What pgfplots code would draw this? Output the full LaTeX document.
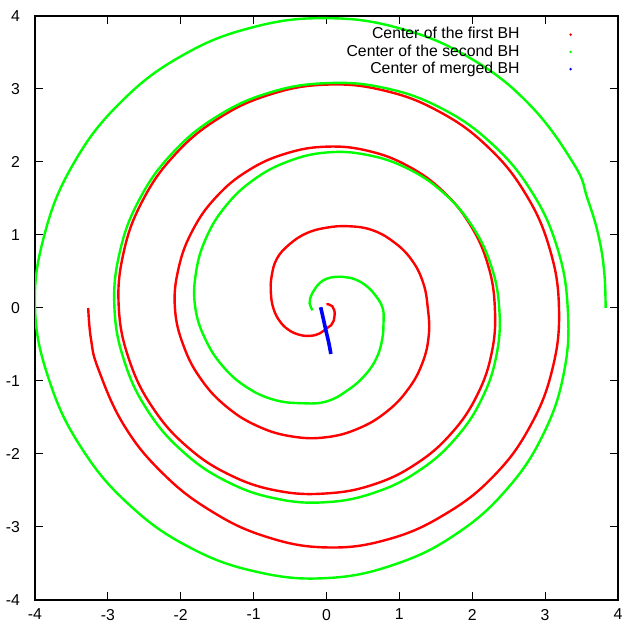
\documentclass[border=0pt]{standalone}
\usepackage{fontspec}
\setmainfont{Liberation Sans}
\usepackage{pgfplots}
\pgfplotsset{compat=1.18}
\definecolor{gpgreen}{RGB}{0,255,0}
\begin{document}
\begin{tikzpicture}
\begin{axis}[
  scale only axis, width=291.5pt, height=292pt,
  xmin=-4, xmax=4, ymin=-4, ymax=4,
  xtick={-4,-3,-2,-1,0,1,2,3,4}, ytick={-4,-3,-2,-1,0,1,2,3,4},
  tick align=inside, major tick length=3.8pt,
  tick style={black, line width=0.5pt},
  axis line style={line width=0.8pt},
  /pgf/number format/assume math mode=true,
  tick label style={font=\fontsize{7.9}{9}\selectfont},
  yticklabel style={xshift=-4pt},
  xticklabel style={yshift=-1pt},
  legend style={draw=none, fill=none, inner sep=0pt, row sep=-2.6pt, at={(0.9314,0.988)}, anchor=north east, font=\fontsize{7.9}{9}\selectfont},
  legend cell align=right,
  legend plot pos=right,
  every axis plot/.append style={legend image code/.code={\path[draw=none,fill=none] (0pt,0pt) -- (27pt,0pt); \fill[#1,draw=none] (23.5pt,0pt) circle (0.7pt);}},
]
\addplot[red, line width=1.2pt, smooth, tension=0.7] coordinates {
(-3.27,0) (-3.232,-0.425) (-3.130,-0.839) (-2.780,-1.605) (-2.256,-2.256) (-1.60,-2.771) (-0.839,-3.130)
(0,-3.28) (0.849,-3.168) (1.63,-2.823) (2.298,-2.298) (2.797,-1.615) (3.101,-0.831)
(3.19,0) (3.060,0.820) (2.725,1.574) (2.210,2.210) (1.552,2.687) (0.798,2.977)
(0,3.06) (-0.783,2.922) (-1.495,2.589) (-2.090,2.090) (-2.529,1.46) (-2.787,0.747)
(-2.85,0) (-2.703,-0.724) (-2.379,-1.374) (-1.906,-1.906) (-1.322,-2.289) (-0.671,-2.504)
(0,-2.54) (0.648,-2.417) (1.232,-2.133) (1.715,-1.715) (2.067,-1.194) (2.268,-0.608)
(2.31,0) (2.215,0.593) (1.972,1.139) (1.598,1.598) (1.122,1.942) (0.576,2.151)
(0,2.21) (-0.566,2.113) (-1.084,1.877) (-1.517,1.517) (-1.838,1.062) (-2.030,0.544)
(-2.08,0) (-1.959,-0.525) (-1.712,-0.989) (-1.361,-1.361) (-0.937,-1.622) (-0.472,-1.760)
(0,-1.77) (0.442,-1.649) (0.822,-1.423) (1.117,-1.117) (1.314,-0.759) (1.403,-0.376)
(1.39,0) (1.323,0.355) (1.160,0.67) (0.912,0.912) (0.618,1.07) (0.30,1.12)
(0,1.10) (-0.274,1.024) (-0.505,0.875) (-0.679,0.679) (-0.753,0.435) (-0.763,0.204)
(-0.73,0) (-0.647,-0.173) (-0.52,-0.30) (-0.368,-0.368) (-0.22,-0.381) (-0.093,-0.348)
(0,-0.28) (0.063,-0.237) (0.10,-0.173) (0.11,-0.11) (0.113,-0.065) (0.106,-0.028)
(0.09,0) (0.082,0.022) (0.06,0.035) (0.03,0.05) (0.0,0.05)
};
\addlegendentry{Center of the first BH}
\addplot[gpgreen, line width=1.2pt, smooth, tension=0.7] coordinates {
(3.83,0) (3.81,0.5) (3.73,1.0) (3.58,1.5) (3.399,1.963) (2.786,2.786) (1.975,3.421) (1.025,3.825)
(0,3.97) (-1.029,3.841) (-1.993,3.451) (-2.821,2.821) (-3.460,1.998) (-3.862,1.035)
(-4.0,0) (-3.796,-1.017) (-3.351,-1.935) (-2.701,-2.701) (-1.89,-3.273) (-0.968,-3.612)
(0,-3.70) (0.941,-3.511) (1.785,-3.092) (2.478,-2.478) (2.979,-1.72) (3.260,-0.873)
(3.31,0) (3.160,0.847) (2.800,1.617) (2.259,2.259) (1.579,2.734) (0.807,3.012)
(0,3.08) (-0.790,2.948) (-1.512,2.618) (-2.118,2.118) (-2.569,1.484) (-2.838,0.760)
(-2.91,0) (-2.770,-0.742) (-2.448,-1.414) (-1.969,-1.969) (-1.372,-2.375) (-0.699,-2.610)
(0,-2.66) (0.676,-2.523) (1.282,-2.220) (1.778,-1.778) (2.136,-1.234) (2.336,-0.626)
(2.37,0) (2.251,0.603) (1.983,1.145) (1.591,1.591) (1.105,1.914) (0.562,2.096)
(0,2.13) (-0.537,2.004) (-1.01,1.749) (-1.389,1.389) (-1.654,0.955) (-1.792,0.480)
(-1.80,0) (-1.655,-0.443) (-1.409,-0.814) (-1.089,-1.089) (-0.725,-1.256) (-0.349,-1.304)
(0,-1.28) (0.300,-1.120) (0.53,-0.918) (0.686,-0.686) (0.762,-0.44) (0.782,-0.210)
(0.77,0) (0.666,0.179) (0.537,0.31) (0.392,0.392) (0.245,0.424) (0.114,0.425)
(0,0.40) (-0.092,0.343) (-0.155,0.268) (-0.198,0.198) (-0.225,0.13) (-0.232,0.062)
(-0.21,0) (-0.19,-0.03)
};
\addlegendentry{Center of the second BH}
\addplot[blue, line width=1.8pt, smooth] coordinates {
(-0.08,0.01) (-0.05,-0.12) (-0.01,-0.30) (0.03,-0.47) (0.06,-0.63)
};
\addlegendentry{Center of merged BH}
\end{axis}
\pgfresetboundingbox
\path ([shift={(-17.5pt,-12.5pt)}]current axis.south west) rectangle ([shift={(2.5pt,8pt)}]current axis.north east);
\end{tikzpicture}
\end{document}
